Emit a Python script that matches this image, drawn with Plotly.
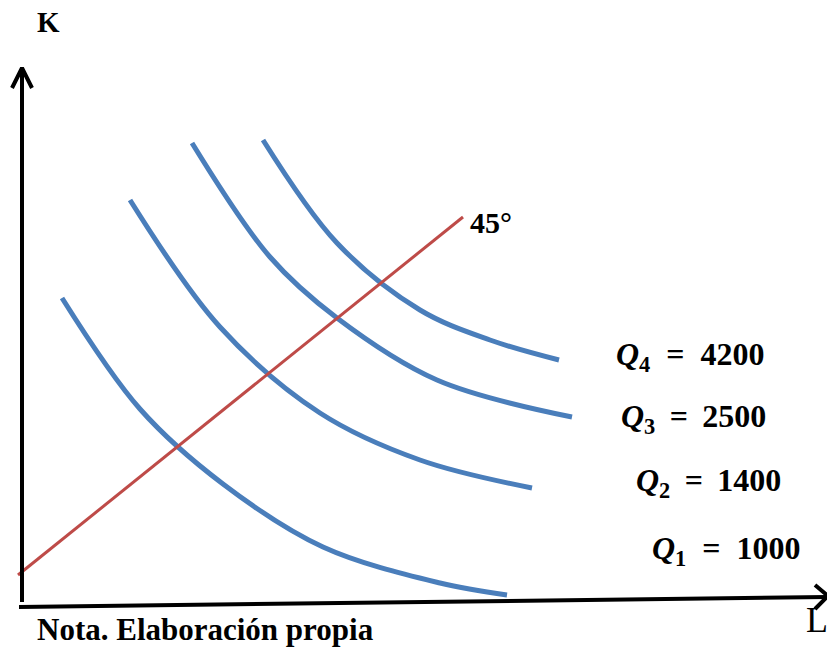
import plotly.graph_objects as go

# Isoquants (L, K)
q1_L = [42, 120, 203, 303, 420, 487]
q1_K = [307, 196, 121, 58, 22, 10]
q2_L = [110, 200, 300, 400, 512]
q2_K = [405, 278, 192, 145, 117]
q3_L = [172, 250, 317, 417, 552]
q3_K = [462, 348, 287, 225, 188]
q4_L = [243, 317, 400, 470, 539]
q4_K = [465, 362, 295, 265, 245]
ray_L = [-2, 443]
ray_K = [30, 388]

q_names = ["4", "3", "2", "1"]
q_values = ["4200", "2500", "1400", "1000"]
label_L = [594, 599, 614, 630]
label_K = [249, 187, 123, 55]
label_gap = ["&nbsp;&nbsp;", "&nbsp;&#8201;", "&nbsp;&#8201;", "&nbsp;&nbsp;"]

# axes
yax_L = [2, 2]
yax_K = [3, 535]
yarrow_L = [-8, 2, 12]
yarrow_K = [517, 537, 517]
xax_L = [-1, 807]
xax_K = [-2, 8]
xarrow_L = [795, 808, 795]
xarrow_K = [20, 9, -4]

BLUE = "#4a7ebb"
RED = "#be4b48"

fig = go.Figure()
for L, K in [(q1_L, q1_K), (q2_L, q2_K), (q3_L, q3_K), (q4_L, q4_K)]:
    fig.add_trace(go.Scatter(x=L, y=K, mode="lines", line=dict(color=BLUE, width=5, shape="spline", smoothing=1.0),
                             hoverinfo="skip"))
fig.add_trace(go.Scatter(x=ray_L, y=ray_K, mode="lines", line=dict(color=RED, width=3), hoverinfo="skip"))
for L, K in [(yax_L, yax_K), (yarrow_L, yarrow_K), (xax_L, xax_K), (xarrow_L, xarrow_K)]:
    fig.add_trace(go.Scatter(x=L, y=K, mode="lines", line=dict(color="black", width=4), hoverinfo="skip"))

font = dict(family="Liberation Serif", size=32, color="black")
for n, v, sp, L, K in zip(q_names, q_values, label_gap, label_L, label_K):
    t = "<b><i>Q</i><sub>" + n + "</sub>" + sp + "=" + sp + v + "</b>"
    fig.add_annotation(x=L, y=K, text=t, showarrow=False, xanchor="left", yanchor="middle", font=font)

fig.add_annotation(x=28, y=583, text="<b>K</b>", showarrow=False, xanchor="center", yanchor="middle",
                   font=dict(family="Liberation Serif", size=29, color="black"))
fig.add_annotation(x=448, y=383, text="<b>45°</b>", showarrow=False, xanchor="left", yanchor="middle",
                   font=dict(family="Liberation Serif", size=30, color="black"))
fig.add_annotation(x=15, y=-24, text="<b>Nota. Elaboración propia</b>", showarrow=False, xanchor="left",
                   yanchor="middle", font=dict(family="Liberation Serif", size=31, color="black"))
fig.add_annotation(x=784, y=-15, text="L", showarrow=False, xanchor="left", yanchor="middle",
                   font=dict(family="Liberation Serif", size=36, color="black"))

fig.update_layout(width=827, height=647, margin=dict(l=0, r=0, t=0, b=0), showlegend=False,
                  plot_bgcolor="white", paper_bgcolor="white")
fig.update_xaxes(range=[-20, 807], visible=False)
fig.update_yaxes(range=[-42, 605], visible=False)
fig.write_html("out.html", config={"displayModeBar": False},
               post_script="document.body.style.margin='0';document.body.style.overflow='hidden';")
